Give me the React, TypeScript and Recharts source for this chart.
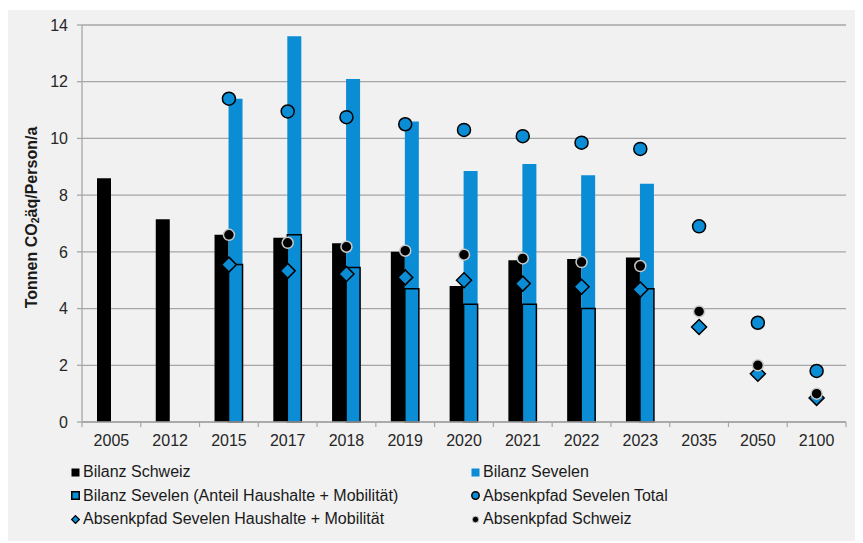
import React from 'react';
import { ComposedChart, Bar, Line, XAxis, YAxis, CartesianGrid } from 'recharts';

const categories = ['2005', '2012', '2015', '2017', '2018', '2019', '2020', '2021', '2022', '2023', '2035', '2050', '2100'];
const bilanzSchweiz = [8.6, 7.15, 6.6, 6.5, 6.3, 6.0, 4.8, 5.7, 5.75, 5.8, null, null, null];
const bilanzSevelen = [null, null, 11.4, 13.6, 12.1, 10.6, 8.85, 9.1, 8.7, 8.4, null, null, null];
const bilanzSevelenAnteil = [null, null, 5.55, 6.6, 5.45, 4.7, 4.15, 4.15, 4.0, 4.7, null, null, null];
const absenkSevelenTotal = [null, null, 11.4, 10.95, 10.75, 10.5, 10.3, 10.08, 9.85, 9.63, 6.9, 3.5, 1.8];
const absenkSevelenHM = [null, null, 5.55, 5.33, 5.22, 5.1, 5.0, 4.88, 4.77, 4.67, 3.35, 1.7, 0.85];
const absenkSchweiz = [null, null, 6.6, 6.32, 6.18, 6.04, 5.9, 5.77, 5.64, 5.5, 3.9, 2.0, 1.0];
const yTicks = [0, 2, 4, 6, 8, 10, 12, 14];

const legendItems = [
  { label: 'Bilanz Schweiz', kind: 'sqBlack' },
  { label: 'Bilanz Sevelen', kind: 'sqBlue' },
  { label: 'Bilanz Sevelen (Anteil Haushalte + Mobilität)', kind: 'sqBlueBorder' },
  { label: 'Absenkpfad Sevelen Total', kind: 'circle' },
  { label: 'Absenkpfad Sevelen Haushalte + Mobilität', kind: 'diamond' },
  { label: 'Absenkpfad Schweiz', kind: 'dot' },
];

const data = categories.map((c, i) => ({
  year: c,
  schweiz: bilanzSchweiz[i],
  sevelen: bilanzSevelen[i],
  anteil: bilanzSevelenAnteil[i],
  total: absenkSevelenTotal[i],
  hm: absenkSevelenHM[i],
  ch: absenkSchweiz[i],
}));

const BLUE = '#0b8dd6';
const GRID = '#a6a6a6';
const FONT = '"Liberation Sans", Arial, sans-serif';

const W = 853;
const H = 531;
const M = { top: 15, right: 15, bottom: 89, left: 20 };
const YW = 54;
const BAND = (W - M.left - M.right - YW) / categories.length;

const renderCircle = (p: any) => {
  const { cx, cy, value, index } = p;
  if (cy == null || value == null || isNaN(cy)) return <g key={'c' + index} />;
  return <circle key={'c' + index} cx={cx} cy={cy} r={6.5} fill={BLUE} stroke="#000" strokeWidth={1.5} />;
};

const renderDiamond = (p: any) => {
  const { cx, cy, value, index } = p;
  if (cy == null || value == null || isNaN(cy)) return <g key={'d' + index} />;
  const r = 7.5;
  return (
    <path
      key={'d' + index}
      d={`M${cx},${cy - r}L${cx + r},${cy}L${cx},${cy + r}L${cx - r},${cy}Z`}
      fill={BLUE}
      stroke="#000"
      strokeWidth={1.5}
    />
  );
};

const renderDot = (p: any) => {
  const { cx, cy, value, index } = p;
  if (cy == null || value == null || isNaN(cy)) return <g key={'k' + index} />;
  return <circle key={'k' + index} cx={cx} cy={cy} r={5.5} fill="#000" stroke="#c8c8c8" strokeWidth={1.5} />;
};

const XTick = (p: any) => {
  const { x, y, payload, index } = p;
  return (
    <g>
      <text x={x} y={y + 23.5} textAnchor="middle" fontSize={16} fill="#262626" fontFamily={FONT}>
        {payload.value}
      </text>
      <line x1={x + BAND / 2} x2={x + BAND / 2} y1={y} y2={y + 5} stroke={GRID} strokeWidth={1.2} />
      {index === 0 && <line x1={x - BAND / 2} x2={x - BAND / 2} y1={y} y2={y + 5} stroke={GRID} strokeWidth={1.2} />}
    </g>
  );
};

const YLabel = (p: any) => {
  const vb = p.viewBox || { x: 0, y: 0, width: 0, height: 0 };
  const cx = vb.x + 3;
  const cy = vb.y + vb.height / 2 - 6;
  return (
    <text
      x={cx}
      y={cy}
      transform={`rotate(-90 ${cx} ${cy})`}
      textAnchor="middle"
      dominantBaseline="central"
      fontSize={16}
      fontWeight="bold"
      fill="#1a1a1a"
      fontFamily={FONT}
    >
      <tspan>Tonnen CO</tspan>
      <tspan fontSize={10.5} dy={4}>2</tspan>
      <tspan dy={-4}>äq/Person/a</tspan>
    </text>
  );
};

const LegendMarker = ({ kind }: { kind: string }) => {
  if (kind === 'sqBlack') return <svg width={9} height={9}><rect x={0.5} y={0.5} width={8} height={8} fill="#000" /></svg>;
  if (kind === 'sqBlue') return <svg width={9} height={9}><rect x={0.5} y={0.5} width={8} height={8} fill={BLUE} /></svg>;
  if (kind === 'sqBlueBorder')
    return <svg width={9} height={9}><rect x={0.75} y={0.75} width={7.5} height={7.5} fill={BLUE} stroke="#000" strokeWidth={1.5} /></svg>;
  if (kind === 'circle')
    return <svg width={9} height={9}><circle cx={4.5} cy={4.5} r={3.7} fill={BLUE} stroke="#000" strokeWidth={1.5} /></svg>;
  if (kind === 'diamond')
    return <svg width={9} height={9}><path d="M4.5,0.6L8.4,4.5L4.5,8.4L0.6,4.5Z" fill={BLUE} stroke="#000" strokeWidth={1.3} /></svg>;
  return <svg width={9} height={9}><circle cx={4.5} cy={4.5} r={3.2} fill="#000" stroke="#c8c8c8" strokeWidth={1} /></svg>;
};

export default function App() {
  return (
    <div style={{ position: 'relative', width: W, height: H, marginTop: 2, background: '#f1f1f1' }}>
      <ComposedChart width={W} height={H} data={data} margin={M} barGap={0}>
        <CartesianGrid vertical={false} stroke={GRID} strokeWidth={1.3} yAxisId="y" xAxisId="a" />
        <XAxis
          xAxisId="a"
          dataKey="year"
          tick={<XTick />}
          tickLine={false}
          tickSize={0}
          tickMargin={0}
          axisLine={{ stroke: GRID, strokeWidth: 1.3 }}
          height={30}
          interval={0}
        />
        <XAxis xAxisId="b" dataKey="year" hide />
        <YAxis
          yAxisId="y"
          domain={[0, 14]}
          ticks={yTicks}
          width={YW}
          tickSize={5}
          tickMargin={9}
          tickLine={{ stroke: GRID, strokeWidth: 1.3 }}
          axisLine={{ stroke: GRID, strokeWidth: 1.3 }}
          tick={{ fontSize: 16, fill: '#262626', fontFamily: FONT }}
          label={{ content: (p: any) => <YLabel {...p} /> }}
        />
        <Bar xAxisId="a" yAxisId="y" dataKey="schweiz" fill="#000" barSize={14} isAnimationActive={false} />
        <Bar xAxisId="a" yAxisId="y" dataKey="sevelen" fill={BLUE} barSize={14} isAnimationActive={false} />
        <Bar xAxisId="b" yAxisId="y" dataKey="schweiz" fill="transparent" barSize={14} isAnimationActive={false} />
        <Bar xAxisId="b" yAxisId="y" dataKey="anteil" fill={BLUE} stroke="#000" strokeWidth={1.5} barSize={14} isAnimationActive={false} />
        <Line xAxisId="a" yAxisId="y" dataKey="total" stroke="none" isAnimationActive={false} dot={renderCircle} activeDot={false} />
        <Line xAxisId="a" yAxisId="y" dataKey="hm" stroke="none" isAnimationActive={false} dot={renderDiamond} activeDot={false} />
        <Line xAxisId="a" yAxisId="y" dataKey="ch" stroke="none" isAnimationActive={false} dot={renderDot} activeDot={false} />
      </ComposedChart>
      {legendItems.map((it, i) => {
        const col = i % 2;
        const row = Math.floor(i / 2);
        return (
          <div
            key={it.label}
            style={{
              position: 'absolute',
              left: col === 0 ? 63 : 463,
              top: 452 + row * 23.5,
              height: 20,
              display: 'flex',
              alignItems: 'center',
              fontFamily: FONT,
              fontSize: 16,
              color: '#1a1a1a',
              whiteSpace: 'nowrap',
            }}
          >
            <LegendMarker kind={it.kind} />
            <span style={{ marginLeft: 3 }}>{it.label}</span>
          </div>
        );
      })}
    </div>
  );
}
